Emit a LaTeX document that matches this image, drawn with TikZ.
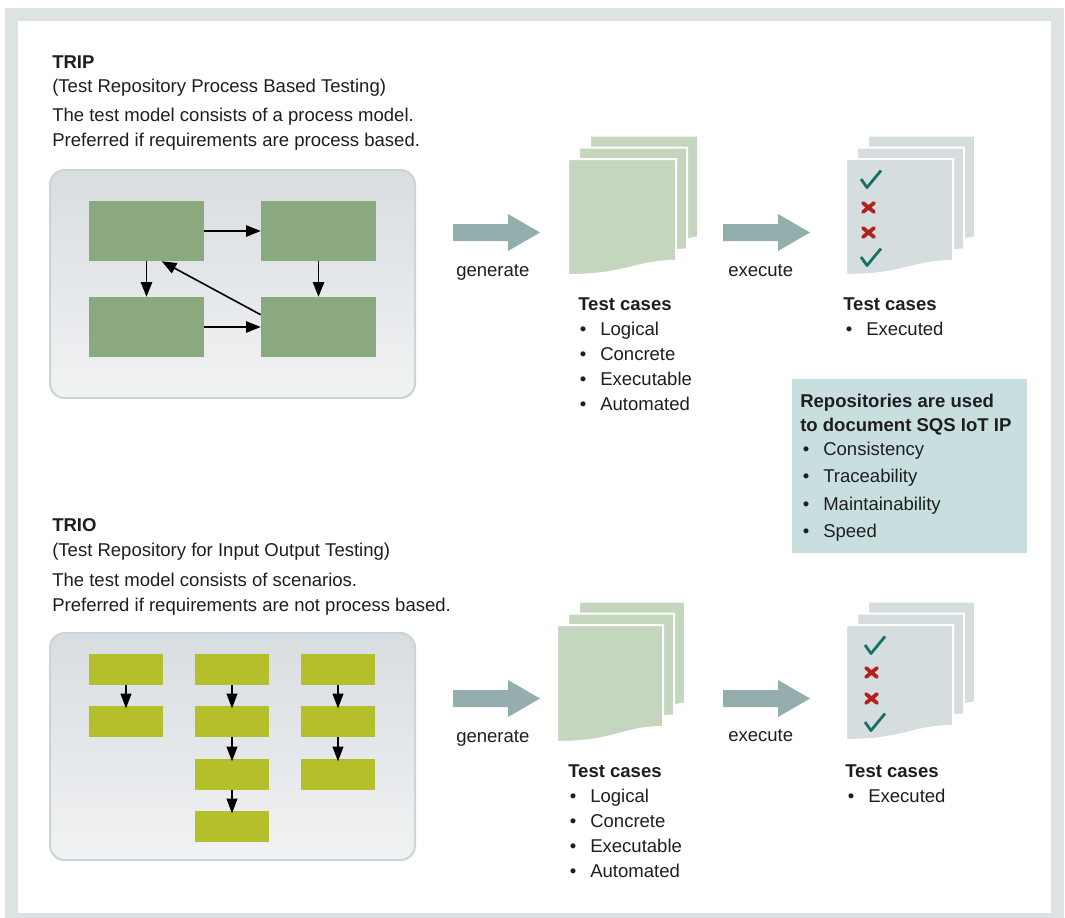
\documentclass[tikz,border=0pt]{standalone}
\usepackage{fontspec}
\setmainfont{Liberation Sans}
\usetikzlibrary{arrows.meta}
\definecolor{framegray}{HTML}{DDE2E4}
\definecolor{panelborder}{HTML}{CBD5D8}
\definecolor{paneltop}{HTML}{D8DDE0}
\definecolor{panelbot}{HTML}{F1F2F4}
\definecolor{procgreen}{HTML}{8AA97E}
\definecolor{scenyellow}{HTML}{B5BF2B}
\definecolor{docgreen}{HTML}{C5D6BE}
\definecolor{docgray}{HTML}{D6DDDF}
\definecolor{bigarrow}{HTML}{94AEAE}
\definecolor{infoblue}{HTML}{C9DFDF}
\definecolor{checkteal}{HTML}{17706A}
\definecolor{crossred}{HTML}{B3201E}
\definecolor{txtcol}{HTML}{1E1E1E}
\newcommand{\bl}{\llap{\textbullet\hspace{10.5pt}}}
\newcommand{\docpage}[6]{%
  \filldraw[fill=#1, draw=white, line width=1.5pt]
    (#2,#3) -- (#4,#3) -- (#4,#6)
    .. controls ({#2+0.62*(#4-#2)},#6) and ({#2+0.55*(#4-#2)},#5) .. (#2,#5) -- cycle;}
\newcommand{\docstack}[6]{% fill, L, T, R, bottom-left, bottom-right of front page
  \docpage{#1}{#2+22}{#3-23.5}{#4+22}{#5-23.5}{#6-23.5}
  \docpage{#1}{#2+11}{#3-11.5}{#4+11}{#5-11.5}{#6-11.5}
  \docpage{#1}{#2}{#3}{#4}{#5}{#6}}
\newcommand{\chk}[2]{\draw[checkteal, line width=2.1pt, line join=round] (#1,#2+9) -- (#1+6,#2+17.5) -- (#1+20,#2+0.5);}
\newcommand{\crs}[2]{\draw[crossred, line width=2.8pt, line cap=round] (#1+1,#2+1) -- (#1+12,#2+10) (#1+1,#2+10) -- (#1+12,#2+1);}
\newcommand{\bigarr}[2]{\fill[bigarrow] (#1,#2-8.5) -- (#1+55,#2-8.5) -- (#1+55,#2-18.5) -- (#1+87,#2) -- (#1+55,#2+18.5) -- (#1+55,#2+8.5) -- (#1,#2+8.5) -- cycle;}
\begin{document}
\begin{tikzpicture}[x=0.75pt,y=-0.75pt,
  txt/.style={anchor=base west, inner sep=0pt, text=txtcol, font=\fontsize{13.9pt}{16pt}\selectfont},
  bold/.style={txt, font=\fontsize{13.9pt}{16pt}\selectfont\bfseries},
  panel/.style={rounded corners=11pt, draw=panelborder, line width=1.5pt, top color=paneltop, bottom color=panelbot, minimum width=273.75pt, inner sep=0pt},
  pbox/.style={fill=procgreen, minimum width=86.25pt, minimum height=45pt, inner sep=0pt},
  ybox/.style={fill=scenyellow, minimum width=55.5pt, minimum height=23.25pt, inner sep=0pt},
  flow/.style={line width=1.2pt, -{Triangle[length=11pt,width=8.5pt]}},
  yflow/.style={line width=1.2pt, -{Triangle[length=11pt,width=8pt]}, shorten >=-2pt}
]
\useasboundingbox (0,0) rectangle (1065,918);
% frame
\fill[framegray] (5,8) rectangle (1064,918);
\fill[white] (18,21) rectangle (1051,913);

% ---------- TRIP ----------
\node[bold] (tripT) at (52,68) {TRIP};
\node[txt] (trip1) at (52,92) {(Test Repository Process Based Testing)};
\node[txt] (trip2) at (52,121) {The test model consists of a process model.};
\node[txt] (trip3) at (52,146) {Preferred if requirements are process based.};

\node[panel, minimum height=171pt] (p1) at (232.5,284) {};
\node[pbox] (b1) at (146.5,231) {};
\node[pbox] (b2) at (318.5,231) {};
\node[pbox] (b3) at (146.5,327) {};
\node[pbox] (b4) at (318.5,327) {};
\draw[flow] (b1) -- (b2);
\draw[flow] (b1) -- (b3);
\draw[flow] (b2) -- (b4);
\draw[flow] (b3) -- (b4);
\draw[flow] ([shift={(0,18)}]b4.north west) -- ([shift={(73,0)}]b1.south west);

\bigarr{453}{232.5}
\node[txt] (gen1) at (456,276) {generate};
\docstack{docgreen}{568}{159}{676}{275}{261}
\node[bold] (tc1) at (578,310) {Test cases};
\node[txt] (tc1a) at (600,335) {\bl Logical};
\node[txt] (tc1b) at (600,360) {\bl Concrete};
\node[txt] (tc1c) at (600,385) {\bl Executable};
\node[txt] (tc1d) at (600,410) {\bl Automated};

\bigarr{723}{232.5}
\node[txt] (exe1) at (728,276) {execute};
\docstack{docgray}{846}{159}{953}{275}{261}
\chk{861}{170}
\crs{862}{202}
\crs{862}{227}
\chk{861}{248}
\node[bold] (ex1) at (843,310) {Test cases};
\node[txt] (ex1a) at (866,335) {\bl Executed};

% ---------- info box ----------
\fill[infoblue] (792,379) rectangle (1027,553);
\node[bold] (inf1) at (800,407) {Repositories are used};
\node[bold] (inf2) at (800,431) {to document SQS IoT IP};
\node[txt] (inf3) at (823,455) {\bl Consistency};
\node[txt] (inf4) at (823,482) {\bl Traceability};
\node[txt] (inf5) at (823,510) {\bl Maintainability};
\node[txt] (inf6) at (823,537) {\bl Speed};

% ---------- TRIO ----------
\node[bold] (trioT) at (52,531) {TRIO};
\node[txt] (trio1) at (52,556) {(Test Repository for Input Output Testing)};
\node[txt] (trio2) at (52,586) {The test model consists of scenarios.};
\node[txt] (trio3) at (52,611) {Preferred if requirements are not process based.};

\node[panel, minimum height=170.25pt] (p2) at (232.5,746.5) {};
\node[ybox] (y11) at (126,669.5) {};
\node[ybox] (y12) at (126,721.5) {};
\node[ybox] (y21) at (232,669.5) {};
\node[ybox] (y22) at (232,721.5) {};
\node[ybox] (y23) at (232,774.5) {};
\node[ybox] (y24) at (232,826.5) {};
\node[ybox] (y31) at (338,669.5) {};
\node[ybox] (y32) at (338,721.5) {};
\node[ybox] (y33) at (338,774.5) {};
\draw[yflow] (y11) -- (y12);
\draw[yflow] (y21) -- (y22);
\draw[yflow] (y22) -- (y23);
\draw[yflow] (y23) -- (y24);
\draw[yflow] (y31) -- (y32);
\draw[yflow] (y32) -- (y33);

\bigarr{453}{698.5}
\node[txt] (gen2) at (456,742) {generate};
\docstack{docgreen}{557}{625}{663}{742}{727}
\node[bold] (tc2) at (568,777) {Test cases};
\node[txt] (tc2a) at (590,802) {\bl Logical};
\node[txt] (tc2b) at (590,827) {\bl Concrete};
\node[txt] (tc2c) at (590,852) {\bl Executable};
\node[txt] (tc2d) at (590,877) {\bl Automated};

\bigarr{723}{698.5}
\node[txt] (exe2) at (728,741) {execute};
\docstack{docgray}{846}{625}{953}{740}{726}
\chk{865}{636}
\crs{865}{667}
\crs{865}{693}
\chk{865}{713}
\node[bold] (ex2) at (845,777) {Test cases};
\node[txt] (ex2a) at (868,802) {\bl Executed};
\end{tikzpicture}
\end{document}
